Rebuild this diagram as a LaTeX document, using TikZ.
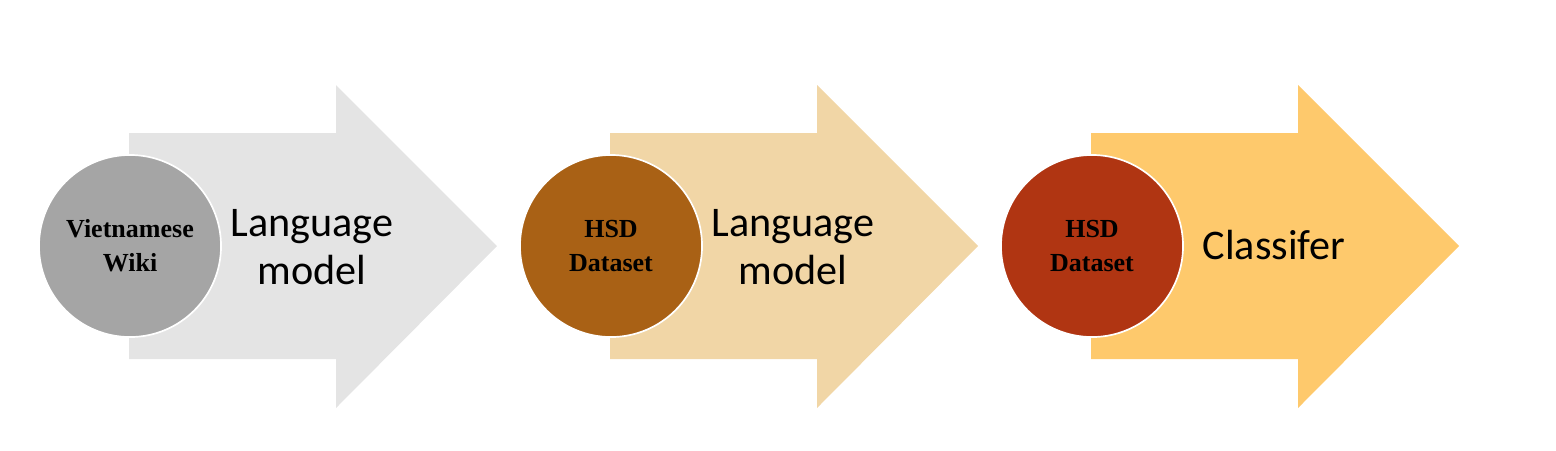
\documentclass[tikz,border=0pt]{standalone}
\usepackage{fontspec}
\setmainfont{Liberation Serif}
\newfontfamily\calfont{Carlito}
\definecolor{wikiarrow}{HTML}{E4E4E4}
\definecolor{wikidot}{HTML}{A5A5A5}
\definecolor{hsdarrow}{HTML}{F1D6A6}
\definecolor{hsddot}{HTML}{A96115}
\definecolor{clsarrow}{HTML}{FEC96C}
\definecolor{clsdot}{HTML}{B03512}
\tikzset{
    stagedot/.style={circle,draw=white,line width=1.2pt,minimum size=4.55cm,inner sep=0pt,
        align=center,font=\fontsize{18.5}{24}\selectfont\bfseries},
    stagetext/.style={align=center,font=\calfont\fontsize{30}{34}\selectfont}
}
\begin{document}
\begin{tikzpicture}[x=0.025cm,y=-0.025cm]
        \useasboundingbox (0,0) rectangle (1556,450);
        %% Arrows
        \fill[wikiarrow] (129,133) -- (336,133) -- (336,85) -- (497,246)
            -- (336,408) -- (336,359) -- (129,359) -- cycle;
        \fill[hsdarrow]  (610,133) -- (817,133) -- (817,85) -- (978,246)
            -- (817,408) -- (817,359) -- (610,359) -- cycle;
        \fill[clsarrow]  (1091,133) -- (1298,133) -- (1298,85) -- (1459,246)
            -- (1298,408) -- (1298,359) -- (1091,359) -- cycle;
        %% Circles
        \node[stagedot,fill=wikidot] (wiki)  at (130,246)  {Vietnamese\\Wiki};
        \node[stagedot,fill=hsddot]  (hsdlm) at (611,246)  {HSD\\Dataset};
        \node[stagedot,fill=clsdot]  (hsdcl) at (1092,246) {HSD\\Dataset};
        %% Labels
        \node[stagetext] (lm1) at (312,247)  {Language\\model};
        \node[stagetext] (lm2) at (793,247)  {Language\\model};
        \node[stagetext] (cls) at (1274,245) {Classifer};
    \end{tikzpicture}
\end{document}
